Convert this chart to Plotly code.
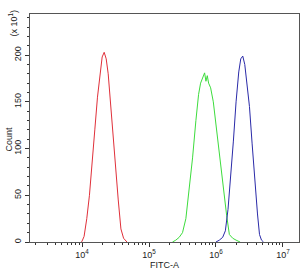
import numpy as np
import plotly.graph_objects as go

# log10(FITC-A) positions and counts (x10)
red_log = [3.99, 4.00, 4.03, 4.07, 4.11, 4.15, 4.19, 4.23, 4.27, 4.30, 4.33, 4.36, 4.39, 4.42, 4.46, 4.50, 4.54, 4.58, 4.62, 4.67]
red_count = [0, 1, 6, 25, 50, 82, 120, 155, 183, 198, 203, 196, 180, 152, 117, 80, 45, 14, 4, 0]

green_log = [5.35, 5.40, 5.45, 5.50, 5.55, 5.60, 5.65, 5.70, 5.74, 5.77, 5.80, 5.83, 5.85, 5.87, 5.89, 5.92, 5.96, 6.00, 6.04, 6.08, 6.12, 6.16, 6.20, 6.25, 6.30, 6.36]
green_count = [0, 2, 5, 10, 25, 55, 90, 130, 158, 170, 176, 181, 172, 178, 170, 165, 150, 125, 103, 80, 55, 28, 8, 4, 2, 0]

blue_log = [6.00, 6.05, 6.10, 6.14, 6.18, 6.22, 6.26, 6.30, 6.34, 6.37, 6.40, 6.43, 6.46, 6.50, 6.54, 6.58, 6.62, 6.65, 6.68, 6.71]
blue_count = [0, 2, 5, 12, 35, 68, 108, 150, 182, 196, 199, 190, 172, 145, 105, 65, 30, 8, 2, 0]

x_tickvals = [1e4, 1e5, 1e6, 1e7]
x_ticktext = ["10<sup>4</sup>", "10<sup>5</sup>", "10<sup>6</sup>", "10<sup>7</sup>"]
y_tickvals = [0, 50, 100, 150, 200]

fig = go.Figure()
for lg, cnt, col in [(red_log, red_count, "#e0303a"),
                     (green_log, green_count, "#3ddc3d"),
                     (blue_log, blue_count, "#2a2aa8")]:
    fig.add_trace(go.Scatter(x=10 ** np.array(lg), y=cnt, mode="lines",
                             line=dict(color=col, width=1), showlegend=False,
                             hoverinfo="skip"))

font = dict(family="Liberation Sans, Arial, sans-serif", size=9, color="#222")
fig.update_layout(
    width=307, height=275,
    margin=dict(l=30, r=7, t=14, b=28),
    paper_bgcolor="white", plot_bgcolor="white",
    font=font,
    xaxis=dict(type="log", range=[3.222, 7.24], tickvals=x_tickvals, ticktext=x_ticktext,
               ticks="outside", ticklen=4, tickcolor="#333", showgrid=False, zeroline=False,
               showline=True, linecolor="#555", linewidth=1, mirror=True,
               minor=dict(ticks="outside", ticklen=2, tickcolor="#333", dtick="D1", showgrid=False),
               title=dict(text="FITC-A", font=dict(size=9), standoff=2),
               tickfont=dict(size=9)),
    yaxis=dict(range=[0, 244], tickvals=y_tickvals, ticks="outside", ticklen=4, tickcolor="#333",
               tickangle=-90, showgrid=False, zeroline=False,
               showline=True, linecolor="#555", linewidth=1, mirror=True,
               minor=dict(ticks="outside", ticklen=2, tickcolor="#333", dtick=10, showgrid=False),
               tickfont=dict(size=9)),
)
fig.add_annotation(text="Count", xref="paper", yref="paper", x=-0.078, y=0.45,
                   textangle=-90, showarrow=False, font=dict(size=9), xanchor="center", yanchor="middle")
fig.add_annotation(text="(x 10<sup>1</sup>)", xref="paper", yref="paper", x=-0.062, y=0.96,
                   textangle=-90, showarrow=False, font=dict(size=9), xanchor="center", yanchor="middle")
fig.write_html("out.html")
